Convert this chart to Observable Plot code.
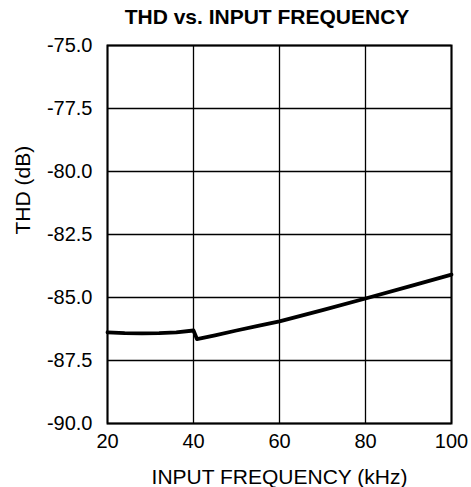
<!DOCTYPE html>
<html>
<head>
<meta charset="utf-8">
<script src="https://cdn.jsdelivr.net/npm/d3@7"></script>
<script src="https://cdn.jsdelivr.net/npm/@observablehq/plot@0.6"></script>
<style>
  body { margin: 0; background: #fff; font-family: "Liberation Sans", Arial, sans-serif; }
  #title { height: 28px; box-sizing: border-box; padding-left: 63px; padding-top: 5px; text-align: center;
           font-weight: bold; font-size: 21px; line-height: 24px; color: #000; width: 471px; }
  svg { display: block; }
</style>
</head>
<body>
<div id="title">THD vs. INPUT FREQUENCY</div>
<div id="chart"></div>
<script>
const freq = [20, 24, 28, 32, 36, 40, 40.8, 45, 50, 55, 60, 70, 80, 90, 100];
const thd  = [-86.38, -86.41, -86.42, -86.41, -86.38, -86.31, -86.65, -86.5, -86.31, -86.13, -85.95, -85.5, -85.04, -84.57, -84.09];
const xTicks = [20, 40, 60, 80, 100];
const yTicks = [-90, -87.5, -85, -82.5, -80, -77.5, -75];
const xLabel = "INPUT FREQUENCY (kHz)";
const yLabel = "THD (dB)";

const data = freq.map((f, i) => ({f, v: thd[i]}));

const chart = Plot.plot({
  width: 471,
  height: 459,
  marginTop: 17,
  marginBottom: 64,
  marginLeft: 107,
  marginRight: 20,
  style: {fontFamily: "'Liberation Sans', Arial, sans-serif", background: "#fff", color: "#000"},
  x: {domain: [20, 100]},
  y: {domain: [-90, -75]},
  marks: [
    Plot.gridX(xTicks, {stroke: "#000", strokeOpacity: 1, strokeWidth: 1.3}),
    Plot.gridY(yTicks, {stroke: "#000", strokeOpacity: 1, strokeWidth: 1.3}),
    Plot.frame({stroke: "#000", strokeWidth: 2}),
    Plot.axisX(xTicks, {tickSize: 0, tickPadding: 10, fontSize: 20, label: null, tickFormat: d => String(d)}),
    Plot.axisY(yTicks, {tickSize: 0, tickPadding: 15, fontSize: 20, label: null, tickFormat: d => d.toFixed(1)}),
    Plot.line(data, {x: "f", y: "v", stroke: "#000", strokeWidth: 3.8, strokeLinejoin: "round"}),
    Plot.text([xLabel], {frameAnchor: "bottom", dy: 60, lineAnchor: "bottom", fontSize: 21, fill: "#000"}),
    Plot.text([yLabel], {frameAnchor: "left", dx: -84, rotate: -90, lineAnchor: "middle", fontSize: 21, fill: "#000"})
  ]
});
document.getElementById("chart").appendChild(chart);
</script>
</body>
</html>
